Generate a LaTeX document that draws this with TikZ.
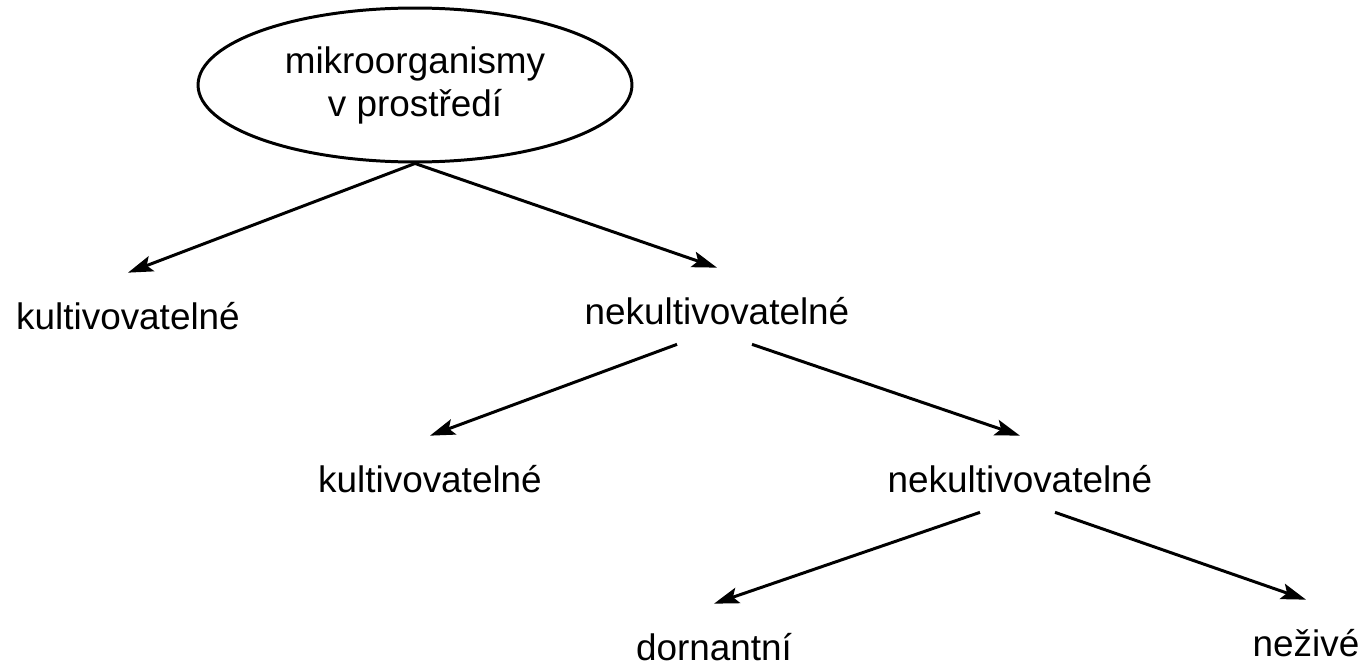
\documentclass[tikz,border=0pt]{standalone}
\usepackage{fontspec}
\setmainfont{Liberation Sans}
\usetikzlibrary{shapes.geometric}
\usetikzlibrary{arrows.meta}

\tikzset{
    txt/.style={font=\fontsize{21pt}{24.5pt}\selectfont},
    lbl/.style={txt,anchor=base,inner sep=0pt,text height=1.12cm},
    split/.style={lbl,text depth=0.4cm},
    arr/.style={->,line width=1.7pt}
}

\begin{document}
\begin{tikzpicture}[>={Stealth[length=5mm,width=3.2mm,inset=1mm]},x=0.02cm,y=-0.02cm]
            \useasboundingbox (0,0) rectangle (1367,666);
            \node[txt,ellipse,draw,line width=1.7pt,align=center,inner sep=0pt,
                minimum width=8.68cm,minimum height=3.08cm] (root) at (415,85)
                {mikroorganismy\\v prostředí};
            \node[lbl] (kult1) at (128,329) {kultivovatelné};
            \node[split] (nek1) at (717,324) {nekultivovatelné};
            \node[lbl] (kult2) at (430,492) {kultivovatelné};
            \node[split] (nek2) at (1020,492) {nekultivovatelné};
            \node[lbl] (dorn) at (714,660) {dornantní};
            \node[lbl] (nez) at (1306,656) {neživé};
            \draw[arr] (root.south) -- (kult1.north);
            \draw[arr] (root.south) -- (nek1.north);
            \foreach \from/\l/\r in {nek1/kult2/nek2,nek2/dorn/nez}{
                \draw[arr] ([xshift=-0.8cm]\from.south) -- (\l.north);
                \draw[arr] ([xshift=0.7cm]\from.south) -- (\r.north);
            }
        \end{tikzpicture}
\end{document}
